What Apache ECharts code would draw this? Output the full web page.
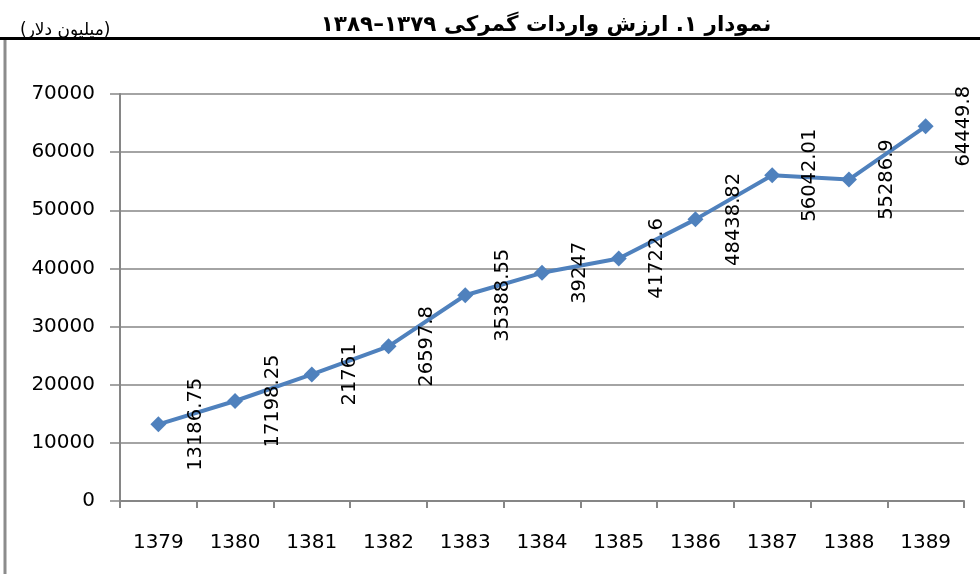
<!DOCTYPE html>
<html>
<head>
<meta charset="utf-8">
<script src="https://cdn.jsdelivr.net/npm/echarts@6/dist/echarts.min.js"></script>
<style>
  html, body { margin: 0; padding: 0; background: #fff; }
  #chart { width: 980px; height: 574px; }
</style>
</head>
<body>
<div id="chart"></div>
<script>
  // سال‌ها و ارزش واردات (میلیون دلار)
  const years = ['1379', '1380', '1381', '1382', '1383', '1384', '1385', '1386', '1387', '1388', '1389']
  const importValues = [13186.75, 17198.25, 21761, 26597.8, 35388.55, 39247, 41722.6, 48438.82, 56042.01, 55286.9, 64449.8]
  const yTicks = [0, 10000, 20000, 30000, 40000, 50000, 60000, 70000]

  const titleText = 'نمودار ۱. ارزش واردات گمرکی ۱۳۷۹–۱۳۸۹'
  // RLM so the parentheses follow the right-to-left text
  const unitText = '\u200F(میلیون دلار)\u200F'

  const gridGray = '#868686'
  const lineBlue = '#4F81BD'

  let chart = echarts.init(document.getElementById('chart'), null, { renderer: 'canvas' })
  chart.setOption({
    animation: false,
    title: [
      {
        text: titleText,
        left: 541,
        top: 9,
        textAlign: 'center',
        textStyle: { fontFamily: 'DejaVu Sans', fontWeight: 'bold', fontSize: 21.5, color: '#000' }
      },
      {
        text: unitText,
        left: 15,
        top: 17,
        textStyle: { fontFamily: 'DejaVu Sans', fontWeight: 'normal', fontSize: 17, color: '#000' }
      }
    ],
    graphic: [
      // frame lines
      { type: 'line', shape: { x1: 0, y1: 38.5, x2: 980, y2: 38.5 }, style: { stroke: '#000', lineWidth: 3 } },
      { type: 'line', shape: { x1: 5, y1: 40, x2: 5, y2: 574 }, style: { stroke: '#8c8c8c', lineWidth: 3 } }
    ],
    grid: { left: 120, right: 16, top: 94, bottom: 73 },
    xAxis: {
      type: 'category',
      data: years,
      boundaryGap: true,
      axisLine: { lineStyle: { color: gridGray, width: 2 } },
      axisTick: { show: true, length: 7, lineStyle: { color: gridGray, width: 2 } },
      axisLabel: { margin: 32, fontFamily: 'DejaVu Sans', fontSize: 20, color: '#000' }
    },
    yAxis: {
      type: 'value',
      min: yTicks[0],
      max: yTicks[yTicks.length - 1],
      interval: 10000,
      axisLine: { show: true, lineStyle: { color: gridGray, width: 2 } },
      axisTick: { show: true, length: 10, lineStyle: { color: gridGray, width: 1.5 } },
      splitLine: { lineStyle: { color: gridGray, width: 1.5 } },
      axisLabel: {
        margin: 25,
        fontFamily: 'DejaVu Sans',
        fontSize: 20,
        color: '#000',
        formatter: function (v) { return String(v) }
      }
    },
    series: [
      {
        name: 'واردات',
        type: 'line',
        data: importValues,
        symbol: 'diamond',
        symbolSize: 16,
        itemStyle: { color: lineBlue },
        lineStyle: { color: lineBlue, width: 4 },
        label: {
          show: true,
          position: 'inside',
          rotate: 90,
          offset: [0, 38],
          align: 'center',
          verticalAlign: 'middle',
          fontFamily: 'DejaVu Sans',
          fontSize: 19.5,
          color: '#000'
        }
      }
    ]
  })
</script>
</body>
</html>
